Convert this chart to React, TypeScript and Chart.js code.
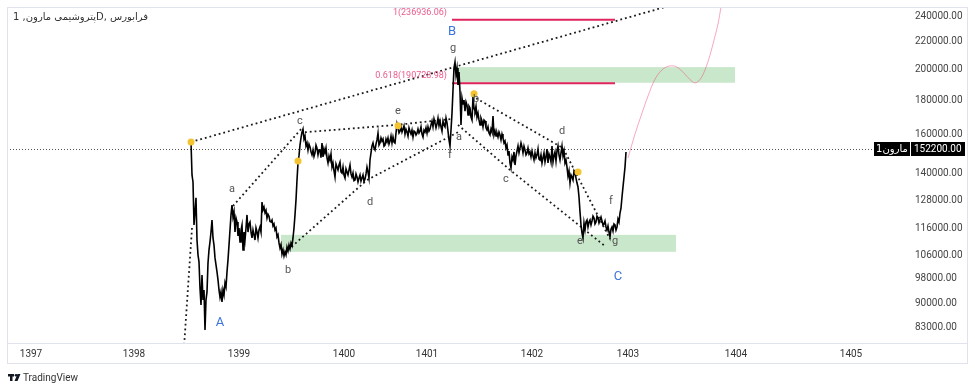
import { useEffect, useRef } from "react";
import { Chart, registerables } from "chart.js";

Chart.register(...registerables);

// ---------- axes ----------
const yearTickPos = [31, 134, 239, 344, 427, 532, 628, 736, 851];
const yearLabels = ["1397", "1398", "1399", "1400", "1401", "1402", "1403", "1404", "1405"];
const priceTicks = [240000, 220000, 200000, 180000, 160000, 140000, 128000, 116000, 106000, 98000, 90000, 83000];
const lastPrice = 152200;
const symbolName = "مارون1";
const titleText = "پتروشیمی مارون, 1D, فرابورس";

// ---------- price series (bar index, close) ----------
const legA: number[][] = [
  [191, 156100], [192, 139500], [193, 136200], [194, 117600], [195, 123000], [196, 129000], [197, 111700],
  [198, 106200], [199, 103700], [200, 94800], [201, 89500], [202, 99150], [203, 91050], [204, 94200],
  [205, 82200], [206, 91050], [207, 93600], [208, 103300], [209, 108000], [210, 111000], [211, 114800],
  [212, 119600], [213, 112500], [214, 109800], [215, 105100], [216, 102600], [217, 100200], [218, 97500],
  [219, 94200], [220, 91900], [221, 93600], [222, 90400], [223, 94200], [224, 92600], [225, 96500],
  [226, 95200], [227, 100200], [228, 104400], [229, 109800], [230, 115600], [231, 121700], [232, 125900],
  [233, 120800], [234, 123000], [235, 114800], [236, 120400], [237, 118800], [238, 113300], [239, 116400],
  [240, 111000], [241, 115600], [242, 117600], [243, 108000], [244, 114800], [245, 111700], [246, 116400],
  [247, 121700], [248, 114800], [249, 118000], [250, 118800], [251, 114800], [252, 112500], [253, 115600],
  [254, 113700], [255, 111700], [256, 116400], [257, 114800], [258, 112500], [259, 115600], [260, 116800],
  [261, 114800], [262, 127200], [263, 123800], [264, 125000], [265, 122600], [266, 123600], [267, 120400],
  [268, 122000], [269, 121200], [270, 119000], [271, 118800], [272, 119600], [273, 117200], [274, 118000],
  [275, 115600], [276, 116400], [277, 112900], [278, 113700], [279, 110600], [280, 108700], [281, 110000],
  [282, 106500], [283, 108000], [284, 105800], [285, 107300], [286, 106200], [287, 109000], [288, 107600],
  [289, 109800], [290, 108400], [291, 110600], [292, 109600], [293, 112500], [294, 116400], [295, 121700],
  [296, 128100], [297, 137100], [298, 145300], [299, 149000], [300, 154500], [301, 158300], [302, 161400],
  [303, 163100],
];
const legB: number[][] = [
  [304, 157700], [305, 159300], [306, 154000], [307, 155600], [308, 151900], [309, 155000], [310, 153500],
  [311, 151000], [312, 149400], [313, 151900], [314, 148600], [315, 150400], [316, 154500], [317, 152900],
  [318, 149400], [319, 152000], [320, 151900], [321, 148000], [322, 155600], [323, 148400], [324, 152400],
  [325, 150400], [326, 153000], [327, 147900], [328, 145300], [329, 148800], [330, 146800], [331, 149800],
  [332, 143300], [333, 145300], [334, 141400], [335, 138500], [336, 144800], [337, 143300], [338, 141900],
  [339, 144300], [340, 145800], [341, 141000], [342, 140400], [343, 143300], [344, 139400], [345, 138000],
  [346, 142400], [347, 140900], [348, 139500], [349, 141900], [350, 144300], [351, 140000], [352, 138500],
  [353, 140400], [354, 136800], [355, 137100], [356, 140000], [357, 138500], [358, 136200], [359, 138000],
  [360, 139500], [361, 136600], [362, 138000], [363, 139500], [364, 136400], [365, 137600], [366, 140000],
  [367, 143300], [368, 140900], [369, 138000], [370, 146800], [371, 150400], [372, 154000], [373, 155600],
  [374, 152900], [375, 151900], [376, 155000], [377, 157200], [378, 160900], [379, 154500], [380, 155600],
  [381, 158300], [382, 156600], [383, 157700], [384, 153900], [385, 154500], [386, 157700], [387, 156100],
  [388, 158300], [389, 155000], [390, 156600], [391, 159300], [392, 155600], [393, 158800], [394, 156100],
  [395, 155600], [396, 160900], [397, 166100], [398, 163800], [399, 161000], [400, 162000], [401, 164400],
  [402, 161500], [403, 163200], [404, 165000], [405, 160400], [406, 163000], [407, 161500], [408, 159300],
  [409, 163800], [410, 162000], [411, 160400], [412, 162600], [413, 158800], [414, 162000], [415, 161500],
  [416, 159900], [417, 160900], [418, 163200], [419, 161000], [420, 162000], [421, 164400], [422, 160400],
  [423, 158800], [424, 162600], [425, 161500], [426, 163800], [427, 160900], [428, 164400], [429, 162000],
  [430, 163200], [431, 165500], [432, 167700], [433, 164400], [434, 168900], [435, 166600], [436, 163800],
  [437, 166100], [438, 169400], [439, 165000], [440, 167700], [441, 164400], [442, 162000], [443, 167700],
  [444, 165500], [445, 164400], [446, 169400], [447, 166600], [448, 162000], [449, 157200], [450, 153900],
  [451, 162600], [452, 172300], [453, 186400], [454, 201000], [455, 205100],
];
const legC: number[][] = [
  [456, 196200], [457, 200900], [458, 189600], [459, 198300], [460, 185200], [461, 165500], [462, 181400],
  [463, 177700], [464, 180200], [465, 173500], [466, 179000], [467, 177100], [468, 171200], [469, 176400],
  [470, 175300], [471, 170000], [472, 168300], [473, 182100], [474, 175300], [475, 173500], [476, 176400],
  [477, 169900], [478, 172300], [479, 168300], [480, 165500], [481, 169400], [482, 167700], [483, 164400],
  [484, 168300], [485, 167700], [486, 163800], [487, 162600], [488, 164400], [489, 161000], [490, 159900],
  [491, 163200], [492, 161500], [493, 170600], [494, 159900], [495, 162000], [496, 159300], [497, 160900],
  [498, 158800], [499, 161500], [500, 159900], [501, 157200], [502, 160400], [503, 158300], [504, 155600],
  [505, 156600], [506, 152900], [507, 154500], [508, 149400], [509, 151400], [510, 145300], [511, 142900],
  [512, 148400], [513, 146800], [514, 150900], [515, 144300], [516, 148900], [517, 151400], [518, 154000],
  [519, 150400], [520, 152900], [521, 155600], [522, 153500], [523, 150400], [524, 153900], [525, 151900],
  [526, 149400], [527, 150400], [528, 152900], [529, 149900], [530, 150900], [531, 148400], [532, 151400],
  [533, 148900], [534, 146800], [535, 150400], [536, 147900], [537, 149400], [538, 152400], [539, 147300],
  [540, 146800], [541, 149400], [542, 145300], [543, 147900], [544, 150400], [545, 145800], [546, 148400],
  [547, 152400], [548, 145300], [549, 149900], [550, 148400], [551, 145800], [552, 154000], [553, 145800],
  [554, 148900], [555, 150900], [556, 146300], [557, 151400], [558, 154000], [559, 149400], [560, 146800],
  [561, 150400], [562, 154000], [563, 148900], [564, 151400], [565, 145300], [566, 146800], [567, 143300],
  [568, 139000], [569, 141400], [570, 135700], [571, 139500], [572, 138500], [573, 137100], [574, 141400],
  [575, 140400], [576, 138000], [577, 135700], [578, 133900], [579, 129400], [580, 123000], [581, 117600],
  [582, 114400], [583, 112500], [584, 118400], [585, 115600], [586, 118800], [587, 119600], [588, 116800],
  [589, 118800], [590, 119600], [591, 117600], [592, 119200], [593, 121200], [594, 120400], [595, 118000],
  [596, 118800], [597, 121200], [598, 120400], [599, 118400], [600, 119600], [601, 120800], [602, 119200],
  [603, 117600], [604, 118000], [605, 119200], [606, 116800], [607, 115600], [608, 117200], [609, 114800],
  [610, 112900], [611, 115900], [612, 116800], [613, 115200], [614, 118000], [615, 117600], [616, 115600],
  [617, 116800], [618, 120000], [619, 118800], [620, 122500], [621, 124600], [622, 129400], [623, 133900],
  [624, 138500], [625, 143300], [626, 150900],
];

// projected path (pink)
const projection: number[][] = [
  [628, 147800], [635, 160400], [642, 172300], [650, 186000], [656, 194600], [663, 200300], [670, 202400],
  [677, 201600], [684, 197400], [690, 193200], [695, 191000], [700, 193200], [705, 199600], [710, 210000],
  [714, 221100], [718, 233500], [721, 247500],
];

// wave guide lines (dotted)
const trendLine = [[191, 156100], [665, 247500]];
const lineAC = [[233, 125500], [302, 163700]];
const lineCEG = [[305, 161400], [397, 165500], [452, 168900]];
const lineBDF = [[288, 108000], [367, 137100], [460, 162000]];
const lineLeftA = [[192, 116400], [184, 77400]];
const lineBDFdown = [[472, 182700], [563, 152900], [610, 112100]];
const lineACEdown = [[458, 165500], [510, 141900], [605, 109400]];

// fibonacci targets
const fibStart = 452;
const fibEnd = 615;
const fibLevels = [236936.06, 190728.98];
const fibLabels = ["1(236936.06)", "0.618(190728.98)"];
const fibLabelPrice = [242500, 195500];

// zones
const zoneStart = [457, 281];
const zoneEnd = [735, 676];
const zoneHigh = [201600, 113700];
const zoneLow = [191100, 107300];

// pivots (yellow)
const pivotX = [191, 298, 398, 474, 578];
const pivotY = [156100, 146300, 165000, 184000, 140900];

// wave labels
const waveText = ["a", "b", "c", "d", "e", "f", "g", "a", "b", "c", "d", "e", "f", "g"];
const waveX = [232, 288, 300, 370, 398, 450, 453, 459, 476, 506, 562, 580, 611, 615];
const waveY = [133000, 100600, 167700, 127200, 173500, 149400, 215200, 158800, 180800, 137600, 162000, 111300, 127600, 111300];
const degreeText = ["A", "B", "C"];
const degreeX = [220, 452, 618];
const degreeY = [84100, 227300, 98500];

const toPts = (arr: number[][]) => arr.map((p) => ({ x: p[0], y: p[1] }));

const dotted = (arr: number[][]) => ({
  type: "line" as const,
  data: toPts(arr),
  borderColor: "#1a1a1a",
  borderWidth: 1.8,
  borderDash: [1.8, 3],
  pointRadius: 0,
  tension: 0,
});

const overlay = {
  id: "overlay",
  beforeDatasetsDraw(chart: any) {
    const { ctx, chartArea, scales } = chart;
    const x = scales.x;
    const y = scales.y;
    ctx.save();
    ctx.beginPath();
    ctx.rect(chartArea.left, chartArea.top, chartArea.right - chartArea.left, chartArea.bottom - chartArea.top);
    ctx.clip();
    ctx.fillStyle = "rgba(76,175,80,0.3)";
    for (let i = 0; i < zoneStart.length; i++) {
      const x0 = x.getPixelForValue(zoneStart[i]);
      const x1 = x.getPixelForValue(zoneEnd[i]);
      const y0 = y.getPixelForValue(zoneHigh[i]);
      const y1 = y.getPixelForValue(zoneLow[i]);
      ctx.fillRect(x0, y0, x1 - x0, y1 - y0);
    }
    const py = Math.round(y.getPixelForValue(lastPrice)) + 0.5;
    ctx.strokeStyle = "#555";
    ctx.lineWidth = 1;
    ctx.setLineDash([1, 2]);
    ctx.beginPath();
    ctx.moveTo(chartArea.left, py);
    ctx.lineTo(chartArea.right, py);
    ctx.stroke();
    ctx.restore();
  },
  afterDatasetsDraw(chart: any) {
    const { ctx, scales } = chart;
    const x = scales.x;
    const y = scales.y;
    ctx.save();
    ctx.textAlign = "center";
    ctx.textBaseline = "middle";
    ctx.font = "11px Roboto";
    ctx.fillStyle = "#555";
    for (let i = 0; i < waveText.length; i++) {
      ctx.fillText(waveText[i], x.getPixelForValue(waveX[i]), y.getPixelForValue(waveY[i]));
    }
    ctx.font = "13px Roboto";
    ctx.fillStyle = "#3a74dc";
    for (let i = 0; i < degreeText.length; i++) {
      ctx.fillText(degreeText[i], x.getPixelForValue(degreeX[i]), y.getPixelForValue(degreeY[i]));
    }
    ctx.font = "9px Roboto";
    ctx.fillStyle = "#ec5b8c";
    ctx.textAlign = "right";
    for (let i = 0; i < fibLabels.length; i++) {
      ctx.fillText(fibLabels[i], x.getPixelForValue(fibStart) - 5, y.getPixelForValue(fibLabelPrice[i]));
    }
    ctx.restore();
  },
  afterDraw(chart: any) {
    const { ctx, scales } = chart;
    const y = scales.y;
    ctx.save();
    ctx.strokeStyle = "#e0e3eb";
    ctx.lineWidth = 1;
    ctx.strokeRect(7.5, 7.5, 960, 356);
    ctx.beginPath();
    ctx.moveTo(7, 343.5);
    ctx.lineTo(967, 343.5);
    ctx.stroke();
    ctx.fillStyle = "#333";
    ctx.font = "10px 'DejaVu Sans', Roboto";
    ctx.textAlign = "left";
    ctx.textBaseline = "middle";
    ctx.fillText(titleText, 13, 17);
    const py = Math.round(y.getPixelForValue(lastPrice));
    ctx.fillStyle = "#000";
    ctx.fillRect(874, py - 7, 36, 14);
    ctx.fillRect(911, py - 7, 54, 14);
    ctx.fillStyle = "#fff";
    ctx.font = "10px 'DejaVu Sans', Roboto";
    ctx.textAlign = "center";
    ctx.fillText(symbolName, 892, py);
    ctx.font = "10px Roboto";
    ctx.textAlign = "left";
    ctx.fillText(lastPrice.toFixed(2), 914, py);
    ctx.fillStyle = "#131722";
    ctx.fillRect(8, 374, 6, 2.5);
    ctx.fillRect(10, 374, 2.5, 7);
    ctx.beginPath();
    ctx.arc(16, 375.3, 1.3, 0, Math.PI * 2);
    ctx.fill();
    ctx.beginPath();
    ctx.moveTo(17.5, 374);
    ctx.lineTo(20.5, 374);
    ctx.lineTo(17.5, 381);
    ctx.lineTo(14.5, 381);
    ctx.closePath();
    ctx.fill();
    ctx.font = "10px Roboto";
    ctx.fillStyle = "#333";
    ctx.textAlign = "left";
    ctx.fillText("TradingView", 23, 378);
    ctx.restore();
  },
};

export default function App() {
  const ref = useRef<HTMLCanvasElement>(null);
  useEffect(() => {
    if (!ref.current) return;
    Chart.defaults.font.family = "Roboto";
    const priceData = toPts([...legA, ...legB, ...legC]);
    const chart = new Chart(ref.current, {
      type: "line",
      data: {
        datasets: [
          {
            data: pivotX.map((v, i) => ({ x: v, y: pivotY[i] })),
            showLine: false,
            pointRadius: 3.5,
            pointBackgroundColor: "#f4c430",
            pointBorderWidth: 0,
          } as any,
          {
            data: priceData,
            borderColor: "#000",
            borderWidth: 1.6,
            pointRadius: 0,
            tension: 0,
          },
          ...fibLevels.map((lv) => ({
            data: [{ x: fibStart, y: lv }, { x: fibEnd, y: lv }],
            borderColor: "#e0245e",
            borderWidth: 2,
            pointRadius: 0,
          })),
          dotted(trendLine),
          dotted(lineAC),
          dotted(lineCEG),
          dotted(lineBDF),
          dotted(lineLeftA),
          dotted(lineBDFdown),
          dotted(lineACEdown),
          {
            data: toPts(projection),
            borderColor: "rgba(236,64,122,0.45)",
            borderWidth: 1,
            pointRadius: 0,
            tension: 0.35,
          },
        ],
      },
      options: {
        responsive: false,
        animation: false,
        events: [],
        layout: { padding: { left: 7, top: 7, right: 8, bottom: 28 } },
        plugins: { legend: { display: false }, tooltip: { enabled: false } },
        scales: {
          x: {
            type: "linear",
            min: 7,
            max: 905,
            grid: { display: false, drawTicks: false },
            border: { display: false },
            afterBuildTicks: (ax: any) => {
              ax.ticks = yearTickPos.map((v) => ({ value: v }));
            },
            afterFit: (ax: any) => {
              ax.height = 20;
              ax.paddingLeft = 0;
              ax.paddingRight = 0;
            },
            ticks: {
              autoSkip: false,
              maxRotation: 0,
              padding: 5,
              color: "#333",
              font: { size: 10 },
              callback: (v: any) => yearLabels[yearTickPos.indexOf(Number(v))] ?? "",
            },
          },
          y: {
            type: "logarithmic",
            position: "right",
            min: 78600,
            max: 247500,
            grid: { display: false, drawTicks: false },
            border: { display: false },
            afterBuildTicks: (ax: any) => {
              ax.ticks = priceTicks.map((v) => ({ value: v }));
            },
            afterFit: (ax: any) => {
              ax.width = 62;
              ax.paddingTop = 0;
              ax.paddingBottom = 0;
            },
            ticks: {
              autoSkip: false,
              padding: 10,
              color: "#444",
              font: { size: 10 },
              callback: (v: any) => Number(v).toFixed(2),
            },
          },
        },
      },
      plugins: [overlay],
    });
    return () => chart.destroy();
  }, []);
  return (
    <div style={{ position: "fixed", left: 0, top: 0, width: 975, height: 391, background: "#fff" }}>
      <canvas ref={ref} width={975} height={391} />
    </div>
  );
}
